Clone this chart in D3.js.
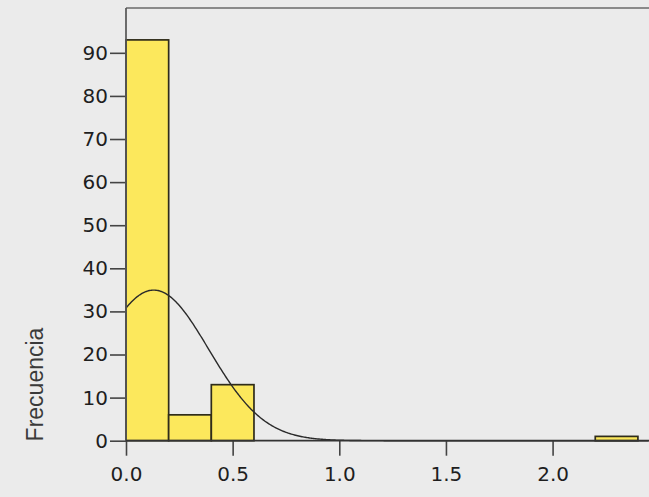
<!DOCTYPE html>
<html>
<head>
<meta charset="utf-8">
<script src="https://cdn.jsdelivr.net/npm/d3@7"></script>
<style>
  html, body { margin: 0; padding: 0; background: #ebebeb; }
  svg { display: block; }
</style>
</head>
<body>
<svg id="chart" width="649" height="497"></svg>
<script>
// Histogram bins (lower edge, upper edge) and frequencies
const binStarts = [0.0, 0.2, 0.4, 2.2];
const binEnds   = [0.2, 0.4, 0.6, 2.4];
const counts    = [93, 6, 13, 1];

// Normal curve parameters (fitted)
const curveMean = 0.13;
const curveSD = 0.258;
const curveN = 113;
const curveBinWidth = 0.2;

const xTicks = [0.0, 0.5, 1.0, 1.5, 2.0];
const yTicks = [0, 10, 20, 30, 40, 50, 60, 70, 80, 90];
const yLabel = "Frecuencia";

(function () {
const svg = d3.select("#chart");
const W = 649, H = 497;
const pLeft = 126, pRight = 649, pTop = 8, pBottom = 440.7;

const x = d3.scaleLinear().domain([0, 2.452]).range([pLeft, pRight]);
const y = d3.scaleLinear().domain([0, 100.4]).range([pBottom, pTop]);

svg.append("rect").attr("width", W).attr("height", H).attr("fill", "#ebebeb");

// Bars
const bars = binStarts.map((s, i) => ({ s, e: binEnds[i], c: counts[i] }));
svg.append("g").selectAll("rect").data(bars).join("rect")
  .attr("x", d => x(d.s))
  .attr("y", d => y(d.c))
  .attr("width", d => x(d.e) - x(d.s))
  .attr("height", d => y(0) - y(d.c))
  .attr("fill", "#fce85c")
  .attr("stroke", "#2f2c1a")
  .attr("stroke-width", 1.7);

// Normal curve
const pdf = v => curveN * curveBinWidth / (curveSD * Math.sqrt(2 * Math.PI)) *
  Math.exp(-((v - curveMean) ** 2) / (2 * curveSD * curveSD));
const xs = d3.range(0, 2.452, 0.005);
svg.append("path")
  .datum(xs)
  .attr("fill", "none")
  .attr("stroke", "#2a2a2a")
  .attr("stroke-width", 1.4)
  .attr("d", d3.line().x(v => x(v)).y(v => y(pdf(v))));

// Top frame line
svg.append("line")
  .attr("x1", pLeft).attr("x2", pRight).attr("y1", pTop).attr("y2", pTop)
  .attr("stroke", "#8a8a8a").attr("stroke-width", 2.2);

const tickFont = "DejaVu Sans, Verdana, sans-serif";

// Y axis
const yAxis = d3.axisLeft(y).tickValues(yTicks).tickSize(16).tickPadding(2).tickFormat(d3.format("d"));
const gy = svg.append("g").attr("transform", `translate(${pLeft},0)`).call(yAxis);
gy.select(".domain").remove();
gy.selectAll(".tick line").attr("stroke", "#444").attr("stroke-width", 1.6);
gy.selectAll(".tick text").attr("font-family", tickFont)
  .attr("font-size", 20).attr("fill", "#1e1e1e");

// X axis
const xAxis = d3.axisBottom(x).tickValues(xTicks).tickSize(15).tickPadding(11).tickFormat(d3.format(".1f"));
const gx = svg.append("g").attr("transform", `translate(0,${pBottom})`).call(xAxis);
gx.select(".domain").remove();
gx.selectAll(".tick line").attr("stroke", "#444").attr("stroke-width", 1.6);
gx.selectAll(".tick text").attr("font-family", tickFont)
  .attr("font-size", 20).attr("fill", "#1e1e1e");

// Axis lines
svg.append("line").attr("x1", pLeft).attr("x2", pLeft).attr("y1", pTop).attr("y2", pBottom)
  .attr("stroke", "#555").attr("stroke-width", 1.7);
svg.append("line").attr("x1", pLeft).attr("x2", pRight).attr("y1", pBottom).attr("y2", pBottom)
  .attr("stroke", "#333").attr("stroke-width", 1.7);

// Y label
svg.append("text")
  .attr("transform", `translate(43,${(327 + 442) / 2}) rotate(-90)`)
  .attr("text-anchor", "middle")
  .attr("font-family", "Liberation Sans, Arial, sans-serif")
  .attr("font-size", 23)
  .attr("fill", "#3a3a3a")
  .text(yLabel);
})();
</script>
</body>
</html>
